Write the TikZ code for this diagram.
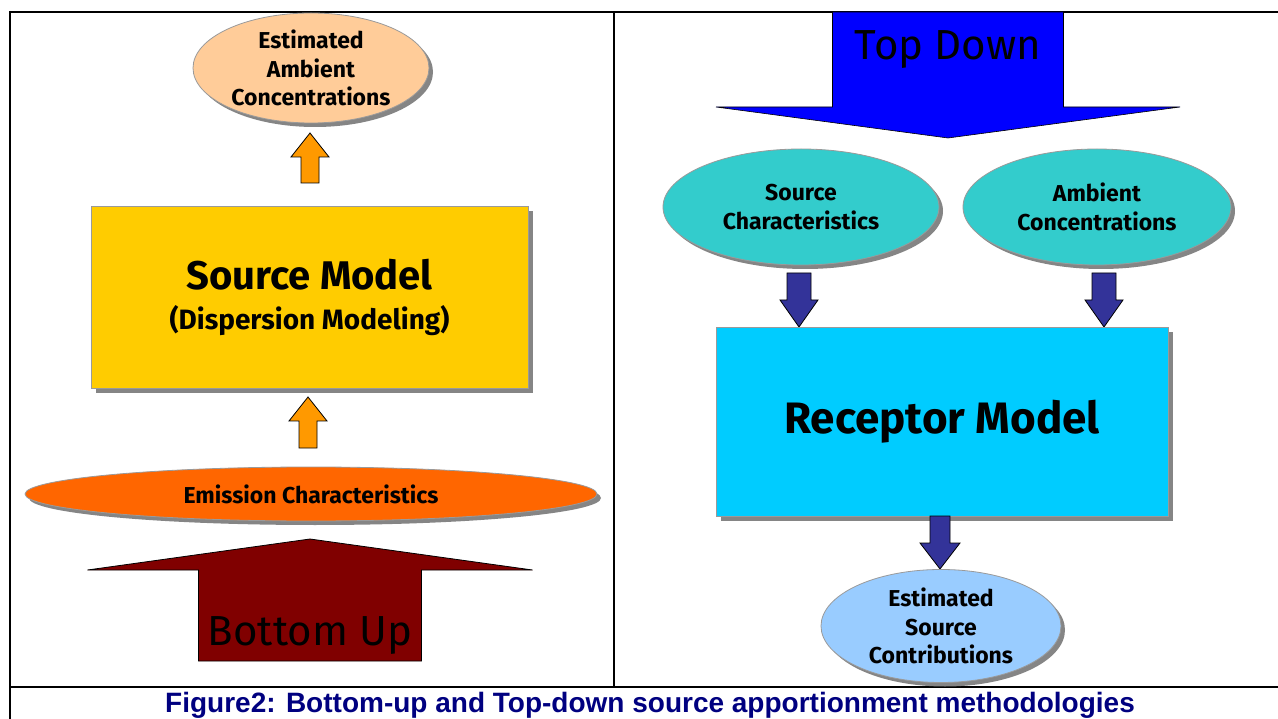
\documentclass[tikz,border=0pt]{standalone}
\usepackage{fontspec}
\setmainfont{Fira Sans}
\newfontfamily\capfont{Liberation Sans}
\usetikzlibrary{shapes.geometric,shadows}
\definecolor{peach}{HTML}{FFCC99}
\definecolor{arrorange}{HTML}{FF9900}
\definecolor{boxyellow}{HTML}{FFCC00}
\definecolor{emorange}{HTML}{FF6600}
\definecolor{maroon}{HTML}{800000}
\definecolor{tdblue}{HTML}{0000FF}
\definecolor{teal}{HTML}{33CCCC}
\definecolor{darkblue}{HTML}{333399}
\definecolor{cyanbox}{HTML}{00CCFF}
\definecolor{lightblue}{HTML}{99CCFF}
\definecolor{navy}{HTML}{000080}
\definecolor{shadowgray}{HTML}{858585}
\definecolor{edgegray}{HTML}{9A9A9A}
\newcommand\fatarrow[7]{%
  \draw[#7] (#1,#2) -- (#1+#5,#2+#4) -- (#1+#6,#2+#4) -- (#1+#6,#3) -- (#1-#6,#3) -- (#1-#6,#2+#4) -- (#1-#5,#2+#4) -- cycle;}
\begin{document}
\begin{tikzpicture}[x=1pt,y=-1pt,
  ell/.style={ellipse, draw=edgegray, line width=0.8pt, inner sep=0pt, align=center,
    font=\fontsize{23}{28.5}\selectfont\bfseries,
    drop shadow={shadow xshift=4pt, shadow yshift=-4pt, fill=shadowgray, opacity=1}},
  bigbox/.style={rectangle, draw=edgegray, line width=0.8pt, inner sep=0pt, align=center,
    drop shadow={shadow xshift=5pt, shadow yshift=-5pt, fill=shadowgray, opacity=1}},
  frame/.style={line width=2pt, black},
  orarrow/.style={fill=arrorange, draw=black, line width=0.8pt},
  dbarrow/.style={fill=darkblue, draw=black, line width=0.8pt},
  bigtxt/.style={font=\fontsize{42}{46}\selectfont}
]
\useasboundingbox (0,0) rectangle (1278,719);
\fill[white] (0,0) rectangle (1278,719);

% frame
\draw[frame] (10,12) -- (1278,12);
\draw[frame] (10,11) -- (10,719);
\draw[frame] (614,12) -- (614,687);
\draw[frame] (10,687) -- (1278,687);

% ---- left panel ----
\node[ell, fill=peach, minimum width=236pt, minimum height=110pt] (estamb) at (311,68)
  {Estimated\\Ambient\\Concentrations};
\fatarrow{310}{133}{183}{24}{19}{9}{orarrow}

\node[bigbox, fill=boxyellow, minimum width=437pt, minimum height=182pt,
      font=\fontsize{28}{40}\selectfont\bfseries] (srcmodel) at (309.5,297)
  {{\fontsize{40}{40}\selectfont Source Model}\\(Dispersion Modeling)};
\fatarrow{308}{397}{448}{24}{19}{9}{orarrow}

\node[ell, fill=emorange, minimum width=572pt, minimum height=54pt] (emis) at (311,494)
  {Emission Characteristics};

\fatarrow{310}{539}{661}{31}{222.5}{111.5}{fill=maroon, draw=black, line width=0.8pt}
\node[bigtxt, anchor=base] (bu) at (310,645) {Bottom Up};

% ---- right panel ----
\fatarrow{948}{138}{12}{-31}{232}{115.5}{fill=tdblue, draw=black, line width=0.6pt}
\node[bigtxt, anchor=base] (td) at (948,60) {Top Down};

\node[ell, fill=teal, minimum width=276pt, minimum height=116pt] (srcchar) at (801,207)
  {Source\\Characteristics};
\node[ell, fill=teal, minimum width=268pt, minimum height=116pt] (ambconc) at (1097,207)
  {Ambient\\Concentrations};

\fatarrow{799}{327}{273}{-27}{19}{12}{dbarrow}
\fatarrow{1104}{327}{273}{-27}{19}{12}{dbarrow}

\node[bigbox, fill=cyanbox, minimum width=452pt, minimum height=189pt] (recmodel) at (942,421.5)
  {\fontsize{44}{50}\selectfont\bfseries Receptor Model};

\fatarrow{940}{569}{516}{-26}{20}{10}{dbarrow}

\node[ell, fill=lightblue, minimum width=240pt, minimum height=113pt] (estsrc) at (941,626)
  {Estimated\\Source\\Contributions};

% caption
\node[anchor=base, text=navy, font=\capfont\fontsize{28}{32}\selectfont\bfseries] (cap) at (650,712)
  {Figure2: Bottom-up and Top-down source apportionment methodologies};
\end{tikzpicture}
\end{document}
